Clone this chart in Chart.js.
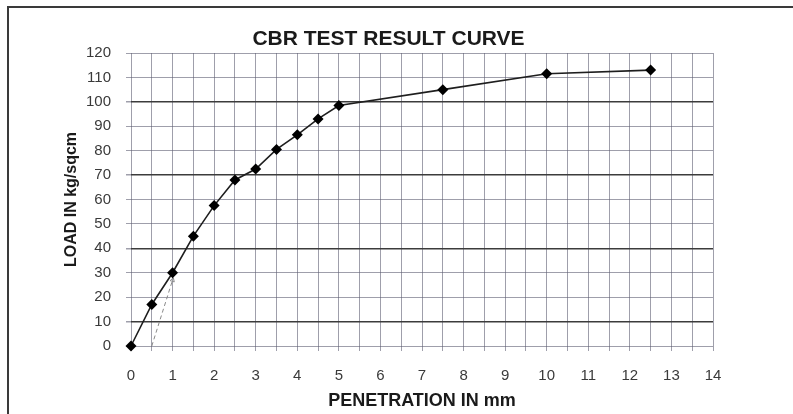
<!DOCTYPE html>
<html>
<head>
<meta charset="utf-8">
<script src="https://cdn.jsdelivr.net/npm/chart.js@4.4.0/dist/chart.umd.min.js"></script>
<style>
  html, body { margin: 0; padding: 0; background: #fff; }
  #wrap { width: 793px; height: 414px; position: relative; }
</style>
</head>
<body>
<div id="wrap"><canvas id="c" width="793" height="414"></canvas></div>
<script>
// ---- data ----
const chartTitle = 'CBR TEST RESULT CURVE';
const xAxisTitle = 'PENETRATION IN mm';
const yAxisTitle = 'LOAD IN kg/sqcm';
const penetration = [0, 0.5, 1, 1.5, 2, 2.5, 3, 3.5, 4, 4.5, 5, 7.5, 10, 12.5];
const load =        [0, 17, 30, 45, 57.5, 68, 72.5, 80.5, 86.5, 93, 98.5, 105, 111.5, 113];
const correctionX = [0.5, 1];
const correctionY = [0, 27];
const xMin = 0, xMax = 14, xGridStep = 0.5;
const yMin = 0, yMax = 120, yStep = 10;
const darkYLines = [10, 40, 70, 100];

const curve = penetration.map((x, i) => ({ x: x, y: load[i] }));
const correction = correctionX.map((x, i) => ({ x: x, y: correctionY[i] }));

const FONT = '"Liberation Sans", Arial, sans-serif';
const LIGHT = 'rgba(95,95,115,0.6)';

const framePlugin = {
  id: 'frame',
  beforeDraw(chart) {
    const ctx = chart.ctx;
    ctx.save();
    ctx.fillStyle = '#ffffff';
    ctx.fillRect(0, 0, chart.width, chart.height);
    ctx.strokeStyle = '#3a3a3a';
    ctx.lineWidth = 2;
    ctx.beginPath();
    ctx.moveTo(8, chart.height);
    ctx.lineTo(8, 7);
    ctx.lineTo(chart.width, 7);
    ctx.stroke();
    ctx.restore();
  }
};

new Chart(document.getElementById('c'), {
  type: 'scatter',
  data: {
    datasets: [
      {
        label: 'Load',
        data: curve,
        showLine: true,
        clip: false,
        borderColor: '#1e1e1e',
        borderWidth: 1.6,
        backgroundColor: '#000',
        pointStyle: 'rectRot',
        pointRadius: 5.5,
        pointHoverRadius: 5.5,
        pointBorderWidth: 0,
        tension: 0,
        order: 1
      },
      {
        label: 'Correction',
        data: correction,
        showLine: true,
        clip: false,
        borderColor: '#8a8a8a',
        borderWidth: 1,
        borderDash: [4, 3],
        pointRadius: [0, 2.5],
        pointStyle: 'triangle',
        rotation: 18,
        backgroundColor: 'rgba(0,0,0,0)',
        pointBorderColor: '#8a8a8a',
        pointBorderWidth: 1,
        order: 2
      }
    ]
  },
  options: {
    responsive: false,
    animation: false,
    devicePixelRatio: 1,
    layout: { padding: { left: 0, right: 16, top: 0, bottom: 0 } },
    plugins: {
      legend: { display: false },
      tooltip: { enabled: false },
      title: {
        display: true,
        text: chartTitle,
        color: '#1a1a1a',
        font: { family: FONT, size: 21, weight: 'bold', lineHeight: 1.2 },
        padding: { top: 27, bottom: 0.8 }
      }
    },
    scales: {
      x: {
        type: 'linear',
        min: xMin,
        max: xMax,
        afterFit(scale) { scale.height = 68; },
        afterBuildTicks(scale) {
          const t = [];
          for (let v = xMin; v <= xMax + 1e-9; v += xGridStep) t.push({ value: Math.round(v * 10) / 10 });
          scale.ticks = t;
        },
        ticks: {
          autoSkip: false,
          maxRotation: 0,
          padding: 16,
          color: '#3a3a3a',
          font: { family: FONT, size: 15 },
          callback: (v) => (Number.isInteger(v) ? String(v) : '')
        },
        grid: { color: LIGHT, lineWidth: 1, tickLength: 5, tickColor: LIGHT },
        border: { display: false },
        title: {
          display: true,
          text: xAxisTitle,
          color: '#1a1a1a',
          font: { family: FONT, size: 18, weight: 'bold', lineHeight: 1.2 },
          padding: { top: 0, bottom: 2.5 }
        }
      },
      y: {
        type: 'linear',
        min: yMin,
        max: yMax,
        afterFit(scale) { scale.width = 131; },
        ticks: {
          stepSize: yStep,
          padding: 15,
          color: '#3a3a3a',
          font: { family: FONT, size: 15 }
        },
        grid: {
          color: (ctx) => (ctx.tick && darkYLines.includes(ctx.tick.value) ? '#3c3c3c' : LIGHT),
          lineWidth: (ctx) => (ctx.tick && darkYLines.includes(ctx.tick.value) ? 1.5 : 1),
          tickLength: 5,
          tickColor: LIGHT
        },
        border: { display: false },
        title: {
          display: true,
          text: yAxisTitle,
          color: '#1a1a1a',
          font: { family: FONT, size: 16, weight: 'bold', lineHeight: 1.2 },
          padding: { top: 62, bottom: 0 }
        }
      },
      yRight: {
        type: 'linear',
        position: 'right',
        display: true,
        min: yMin,
        max: yMax,
        afterFit(scale) { scale.width = 64; },
        ticks: { display: false },
        grid: { display: false, drawOnChartArea: false },
        border: { display: false },
        title: { display: false }
      }
    }
  },
  plugins: [framePlugin]
});
</script>
</body>
</html>
